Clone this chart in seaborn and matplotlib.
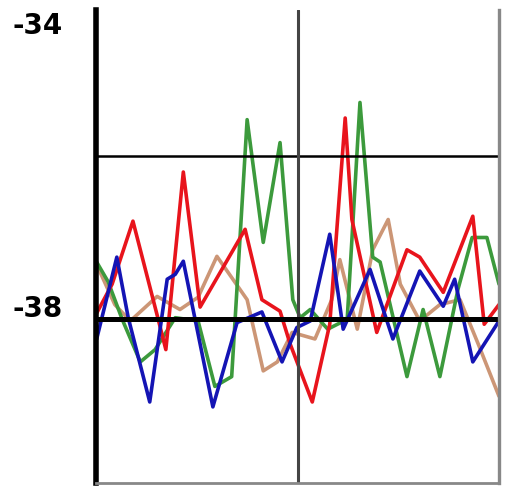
import numpy as np
import pandas as pd
import seaborn as sns
import matplotlib
matplotlib.use("Agg")
import matplotlib.pyplot as plt

# sample time (0-60) and value for each trace
tan_t = [0.1, 2.8, 5.1, 9.1, 12.5, 15.2, 18.0, 22.5, 24.9, 27.0, 29.2, 32.6, 35.1, 36.3,
         38.9, 41.2, 43.5, 45.3, 48.2, 51.2, 54.2, 56.9, 60.0]
tan_v = [-37.33, -37.82, -38.02, -37.72, -37.88, -37.73, -37.23, -37.76, -38.63, -38.52,
         -38.16, -38.24, -37.76, -37.27, -38.12, -37.15, -36.78, -37.57, -38.02, -37.82,
         -37.76, -38.30, -38.94]

green_t = [0.1, 1.8, 3.9, 6.6, 8.8, 11.8, 15.2, 17.7, 20.2, 22.5, 24.9, 27.4, 29.3, 30.4,
           31.9, 34.5, 37.4, 39.3, 41.2, 42.3, 46.3, 48.7, 51.2, 53.9, 56.0, 58.2, 60.0]
green_v = [-37.30, -37.54, -38.00, -38.52, -38.37, -37.98, -38.02, -38.82, -38.70, -35.56,
           -37.06, -35.84, -37.76, -37.98, -37.88, -38.12, -38.00, -35.35, -37.24, -37.30,
           -38.70, -37.88, -38.70, -37.63, -37.00, -37.00, -37.57]

red_t = [0.0, 2.4, 5.5, 9.2, 10.4, 13.0, 15.5, 22.2, 24.7, 27.4, 28.9, 32.2, 34.8, 37.1,
         38.1, 41.8, 46.3, 48.2, 51.7, 56.1, 57.8, 60.0]
red_v = [-37.94, -37.57, -36.80, -37.98, -38.37, -36.20, -37.85, -36.90, -37.76, -37.90,
         -38.30, -39.01, -38.06, -35.54, -36.78, -38.16, -37.15, -37.24, -37.67, -36.74,
         -38.06, -37.82]

blue_t = [0.1, 3.1, 4.8, 8.0, 10.6, 11.8, 13.0, 17.4, 21.0, 24.7, 27.7, 29.9, 31.9, 34.8,
          36.8, 40.8, 44.2, 48.2, 51.7, 53.4, 56.1, 60.0]
blue_v = [-38.24, -37.24, -37.98, -39.01, -37.51, -37.45, -37.29, -39.07, -38.04, -37.91,
          -38.52, -38.10, -38.02, -36.96, -38.12, -37.39, -38.24, -37.41, -37.84, -37.51,
          -38.52, -38.02]

series = ["tan", "green", "red", "blue"]
colors = ["#cc9676", "#3c9a3c", "#e8141c", "#1414b4"]
tick_pos = [-37.84, -34.38]
tick_labels = ["-38", "-34"]

df = pd.concat([
    pd.DataFrame({"t": tan_t, "v": tan_v, "s": "tan"}),
    pd.DataFrame({"t": green_t, "v": green_v, "s": "green"}),
    pd.DataFrame({"t": red_t, "v": red_v, "s": "red"}),
    pd.DataFrame({"t": blue_t, "v": blue_v, "s": "blue"}),
], ignore_index=True)

sns.set_style("white")
fig = plt.figure(figsize=(5.09, 4.87), dpi=100)
ax = fig.add_axes([96 / 509, 1 - 483 / 487, 403 / 509, 473 / 487])

sns.lineplot(data=df, x="t", y="v", hue="s", hue_order=series,
             palette=dict(zip(series, colors)), sort=False, estimator=None,
             lw=2.6, legend=False, ax=ax)

ax.axhline(-36, color="black", lw=1.8, zorder=5)
ax.axhline(-38, color="black", lw=3.6, zorder=6)
ax.axvline(30, color="#444444", lw=2.2, zorder=5)

ax.set_xlim(0, 60)
ax.set_ylim(-40, -34.22)
ax.set_xticks([])
ax.set_yticks(tick_pos)
ax.set_yticklabels(tick_labels, fontsize=20, fontweight="bold", family="DejaVu Sans",
                   color="black")
ax.tick_params(axis="y", length=0, pad=24)
ax.set_xlabel("")
ax.set_ylabel("")

ax.spines["top"].set_visible(False)
ax.spines["left"].set_color("black")
ax.spines["left"].set_linewidth(4.0)
ax.spines["right"].set_color("#888888")
ax.spines["right"].set_linewidth(2.4)
ax.spines["bottom"].set_color("#888888")
ax.spines["bottom"].set_linewidth(2.0)
for sp in ax.spines.values():
    sp.set_zorder(7)

fig.savefig("out.png", dpi=100)
